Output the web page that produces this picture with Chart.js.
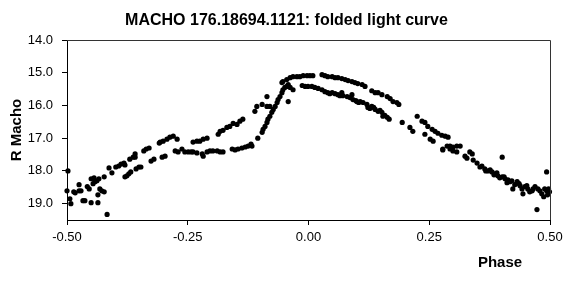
<!DOCTYPE html>
<html>
<head>
<meta charset="utf-8">
<script src="https://cdn.jsdelivr.net/npm/chart.js@4"></script>
<style>
  html, body { margin: 0; padding: 0; background: #fff; }
</style>
</head>
<body>
<canvas id="chart" width="579" height="294"></canvas>
<script>
// Folded light curve in three phase segments

const titleText = 'MACHO 176.18694.1121: folded light curve';

// -0.50 .. -0.10 : faint side and the two rising branches
const phaseLeft = [
  -0.498, -0.500, -0.494, -0.492, -0.486, -0.483, -0.475, -0.475, -0.471, -0.467,
  -0.463, -0.458, -0.454, -0.450, -0.450, -0.444, -0.446, -0.442, -0.438, -0.434,
  -0.436, -0.436, -0.432, -0.428, -0.423, -0.423, -0.417, -0.413, -0.407, -0.399,
  -0.393, -0.388, -0.382, -0.380, -0.380, -0.376, -0.372, -0.368, -0.370, -0.363,
  -0.359, -0.359, -0.357, -0.351, -0.347, -0.341, -0.336, -0.330, -0.326, -0.320,
  -0.309, -0.303, -0.307, -0.301, -0.293, -0.287, -0.280, -0.272, -0.297, -0.276,
  -0.270, -0.262, -0.256, -0.249, -0.243, -0.239, -0.231, -0.225, -0.218, -0.210,
  -0.239, -0.231, -0.220, -0.218, -0.210, -0.204, -0.198, -0.189, -0.183, -0.177,
  -0.187, -0.183, -0.177, -0.169, -0.163, -0.156, -0.148, -0.142, -0.136, -0.158,
  -0.152, -0.146, -0.138, -0.131, -0.125, -0.119, -0.111, -0.107, -0.117, -0.105,
];
const magLeft = [
  18.00, 18.61, 18.85, 19.00, 18.64, 18.67, 18.42, 18.61, 18.61, 18.91,
  18.91, 18.48, 18.55, 18.97, 18.24, 18.21, 18.39, 18.33, 18.30, 18.24,
  18.73, 18.97, 18.55, 18.61, 18.64, 18.18, 19.33, 17.91, 18.06, 17.88,
  17.85, 17.79, 17.76, 17.82, 18.18, 18.15, 18.09, 18.03, 17.64, 17.58,
  17.58, 17.48, 17.94, 17.88, 17.88, 17.39, 17.33, 17.30, 17.70, 17.64,
  17.15, 17.58, 17.12, 17.09, 17.03, 16.97, 16.94, 17.03, 17.55, 17.39,
  17.42, 17.33, 17.42, 17.42, 17.42, 17.12, 17.09, 17.09, 17.03, 17.00,
  17.42, 17.45, 17.48, 17.55, 17.42, 17.39, 17.39, 17.39, 17.42, 17.42,
  16.88, 16.79, 16.76, 16.67, 16.64, 16.55, 16.58, 16.48, 16.42, 17.33,
  17.36, 17.33, 17.30, 17.27, 17.24, 17.18, 16.18, 16.03, 17.24, 17.00,
];

// -0.10 .. 0.10 : steep rise and the double maximum
const phasePeak = [
  -0.096, -0.086, -0.086, -0.080, -0.096, -0.094, -0.090, -0.086, -0.084, -0.080,
  -0.076, -0.073, -0.069, -0.065, -0.063, -0.059, -0.055, -0.053, -0.049, -0.045,
  -0.042, -0.038, -0.032, -0.042, -0.055, -0.053, -0.045, -0.038, -0.032, -0.024,
  -0.018, -0.011, -0.003, 0.003, 0.009, 0.028, 0.034, 0.040, 0.049, 0.055,
  0.061, 0.069, 0.076, 0.082, 0.090, 0.096, 0.102, -0.013, -0.007, -0.001,
  0.007, 0.013, 0.020, 0.028, 0.034, 0.040, 0.049, 0.055, 0.061, 0.069,
  0.071, 0.080, 0.086, 0.092, 0.100, 0.044, 0.065, 0.098,
];
const magPeak = [
  15.97, 15.73, 16.03, 16.03, 16.82, 16.73, 16.64, 16.52, 16.42, 16.33,
  16.21, 16.12, 16.03, 15.91, 15.82, 15.73, 15.61, 15.52, 15.45, 15.42,
  15.36, 15.45, 15.52, 15.88, 15.30, 15.27, 15.21, 15.15, 15.12, 15.12,
  15.12, 15.09, 15.09, 15.09, 15.09, 15.06, 15.09, 15.12, 15.12, 15.15,
  15.15, 15.18, 15.21, 15.24, 15.27, 15.30, 15.33, 15.39, 15.42, 15.42,
  15.42, 15.45, 15.48, 15.52, 15.58, 15.61, 15.61, 15.64, 15.67, 15.61,
  15.70, 15.73, 15.76, 15.82, 15.88, 15.64, 15.70, 15.85,
];

// 0.10 .. 0.50 : decline
const phaseRight = [
  0.111, 0.117, 0.131, 0.138, 0.144, 0.152, 0.163, 0.169, 0.175, 0.183,
  0.187, 0.090, 0.107, 0.113, 0.121, 0.123, 0.131, 0.138, 0.144, 0.152,
  0.154, 0.163, 0.167, 0.194, 0.210, 0.216, 0.225, 0.235, 0.241, 0.247,
  0.256, 0.262, 0.268, 0.276, 0.283, 0.289, 0.241, 0.252, 0.258, 0.278,
  0.287, 0.293, 0.299, 0.307, 0.278, 0.293, 0.299, 0.307, 0.314, 0.324,
  0.328, 0.334, 0.339, 0.341, 0.349, 0.355, 0.365, 0.372, 0.380, 0.386,
  0.392, 0.401, 0.401, 0.407, 0.413, 0.417, 0.423, 0.432, 0.438, 0.444,
  0.448, 0.454, 0.463, 0.469, 0.475, 0.473, 0.483, 0.487, 0.493, 0.493,
  0.499, 0.359, 0.367, 0.376, 0.384, 0.390, 0.396, 0.405, 0.411, 0.421,
  0.427, 0.436, 0.442, 0.452, 0.458, 0.465, 0.479, 0.489, 0.495, 0.497,
  0.104, 0.127, 0.135, 0.148, 0.158,
];
const magRight = [
  15.36, 15.42, 15.55, 15.61, 15.61, 15.67, 15.73, 15.79, 15.88, 15.91,
  15.97, 15.67, 15.88, 15.91, 15.97, 16.06, 16.03, 16.12, 16.18, 16.21,
  16.33, 16.36, 16.42, 16.52, 16.67, 16.79, 16.33, 16.48, 16.52, 16.64,
  16.73, 16.79, 16.85, 16.91, 16.94, 16.97, 16.88, 17.03, 17.09, 17.33,
  17.24, 17.24, 17.27, 17.24, 17.36, 17.33, 17.39, 17.42, 17.24, 17.55,
  17.61, 17.42, 17.48, 17.67, 17.76, 17.88, 17.94, 18.00, 18.03, 18.09,
  18.15, 17.58, 18.18, 18.24, 18.27, 18.33, 18.55, 18.33, 18.45, 18.70,
  18.48, 18.55, 18.61, 18.48, 18.55, 19.18, 18.70, 18.79, 18.61, 18.03,
  18.64, 17.85, 18.00, 17.97, 18.12, 18.06, 18.21, 18.18, 18.36, 18.30,
  18.42, 18.39, 18.55, 18.45, 18.64, 18.55, 18.61, 18.55, 18.73, 18.55,
  15.91, 16.09, 16.06, 16.15, 16.30,
];

const phaseAll = [...phaseLeft, ...phasePeak, ...phaseRight];
const magAll = [...magLeft, ...magPeak, ...magRight];
const points = phaseAll.map((p, i) => ({ x: p, y: magAll[i] }));

const FONT = 'Arial, "Liberation Sans", sans-serif';

// top/right frame lines and the "Phase" caption sitting right of centre
const frameAndPhase = {
  id: 'frameAndPhase',
  afterDraw(chart) {
    const { ctx, chartArea: a } = chart;
    ctx.save();
    ctx.strokeStyle = '#333';
    ctx.lineWidth = 1;
    ctx.beginPath();
    ctx.moveTo(a.left, Math.round(a.top) + 0.5);
    ctx.lineTo(Math.round(a.right) + 0.5, Math.round(a.top) + 0.5);
    ctx.lineTo(Math.round(a.right) + 0.5, a.bottom);
    ctx.stroke();
    ctx.font = 'bold 15px ' + FONT;
    ctx.fillStyle = '#000';
    ctx.textAlign = 'center';
    ctx.textBaseline = 'middle';
    ctx.fillText('Phase', a.right - 50, a.bottom + 43);
    ctx.restore();
  },
};

new Chart(document.getElementById('chart'), {
  type: 'scatter',
  data: {
    datasets: [
      {
        label: 'R Macho',
        data: points,
        backgroundColor: '#000',
        borderWidth: 0,
        pointRadius: 2.6,
        clip: false,
      },
    ],
  },
  options: {
    responsive: false,
    animation: false,
    layout: { padding: { left: 0, right: 6, top: 0, bottom: 0 } },
    scales: {
      x: {
        type: 'linear',
        min: -0.5,
        max: 0.5,
        afterFit(scale) { scale.height = 74; },
        ticks: {
          stepSize: 0.25,
          padding: 5,
          color: '#000',
          font: { family: FONT, size: 13 },
          maxRotation: 0,
          callback: (v) => v.toFixed(2),
        },
        grid: { drawOnChartArea: false, tickLength: 5, color: '#000' },
        border: { color: '#000', width: 1 },
      },
      y: {
        type: 'linear',
        reverse: true,
        min: 14,
        max: 19.5,
        afterFit(scale) { scale.width = 67; },
        ticks: {
          stepSize: 1,
          includeBounds: false,
          padding: 9,
          color: '#000',
          font: { family: FONT, size: 13 },
          callback: (v) => v.toFixed(1),
        },
        grid: { drawOnChartArea: false, tickLength: 5, color: '#000' },
        border: { color: '#000', width: 1 },
        title: {
          display: true,
          text: 'R Macho',
          color: '#000',
          font: { family: FONT, size: 15, weight: 'bold' },
          padding: { top: 8, bottom: 0 },
        },
      },
      y2: {
        type: 'linear',
        position: 'right',
        afterFit(scale) { scale.width = 23; },
        ticks: { display: false },
        grid: { display: false },
        border: { display: false },
      },
    },
    plugins: {
      legend: { display: false },
      tooltip: { enabled: false },
      title: {
        display: true,
        text: titleText,
        color: '#000',
        font: { family: FONT, size: 16, weight: 'bold' },
        padding: { top: 11, bottom: 9.8 },
      },
    },
  },
  plugins: [frameAndPhase],
});
</script>
</body>
</html>
